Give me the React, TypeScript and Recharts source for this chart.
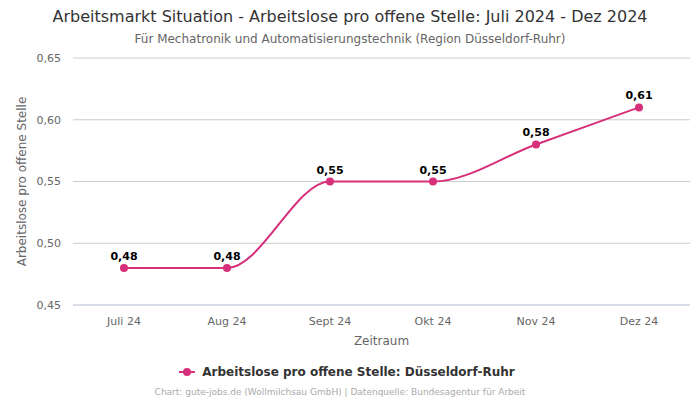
import React from 'react';
import { LineChart, Line, XAxis, YAxis, CartesianGrid, LabelList } from 'recharts';

const categories = ['Juli 24', 'Aug 24', 'Sept 24', 'Okt 24', 'Nov 24', 'Dez 24'];
const values = [0.48, 0.48, 0.55, 0.55, 0.58, 0.61];
const yTicks = [0.45, 0.5, 0.55, 0.6, 0.65];
const seriesName = 'Arbeitslose pro offene Stelle: Düsseldorf-Ruhr';

const data = categories.map((c, i) => ({ name: c, value: values[i] }));

const FONT = '"DejaVu Sans", sans-serif';
const COLOR = '#d6307a';
const fmt = (v: number) => v.toFixed(2).replace('.', ',');

export default function App() {
  return (
    <div style={{ position: 'absolute', left: 0, top: 0, width: 700, height: 400, background: '#fff', fontFamily: FONT }}>
      <div style={{ position: 'absolute', top: 7, left: 0, width: 700, textAlign: 'center', fontSize: 16, color: '#333', fontFamily: FONT }}>
        Arbeitsmarkt Situation - Arbeitslose pro offene Stelle: Juli 2024 - Dez 2024
      </div>
      <div style={{ position: 'absolute', top: 32, left: 0, width: 700, textAlign: 'center', fontSize: 12, color: '#666', fontFamily: FONT }}>
        Für Mechatronik und Automatisierungstechnik (Region Düsseldorf-Ruhr)
      </div>
      <LineChart width={700} height={400} data={data} margin={{ top: 58, right: 10, left: 0, bottom: 55 }}>
        <CartesianGrid horizontal vertical={false} stroke="#cccccc" />
        <XAxis
          dataKey="name"
          padding={{ left: 51, right: 51 }}
          axisLine={{ stroke: '#ccd6eb' }}
          tickLine={false}
          tick={{ fontSize: 11, fill: '#666', fontFamily: FONT }}
          tickMargin={6}
          height={40}
          label={{ value: 'Zeitraum', position: 'insideBottom', offset: 0, fontSize: 12, fill: '#666', fontFamily: FONT }}
        />
        <YAxis
          domain={[0.45, 0.65]}
          ticks={yTicks}
          tickFormatter={fmt}
          width={73}
          axisLine={false}
          tickLine={false}
          tick={{ fontSize: 11, fill: '#666', fontFamily: FONT }}
          tickMargin={6}
          label={{ value: 'Arbeitslose pro offene Stelle', angle: -90, position: 'insideLeft', offset: 22, style: { textAnchor: 'middle' }, fontSize: 12, fill: '#666', fontFamily: FONT }}
        />
        <Line
          type="monotone"
          dataKey="value"
          name={seriesName}
          stroke={COLOR}
          strokeWidth={2}
          dot={{ r: 4, fill: COLOR, stroke: COLOR, strokeWidth: 0 }}
          activeDot={false}
          isAnimationActive={false}
        >
          <LabelList dataKey="value" position="top" offset={8} formatter={fmt} style={{ fontSize: 11, fontWeight: 'bold', fill: '#000', fontFamily: FONT }} />
        </Line>
      </LineChart>
      <div style={{ position: 'absolute', top: 365, left: -3, width: 700, display: 'flex', justifyContent: 'center', alignItems: 'center', fontFamily: FONT }}>
        <svg width={16} height={10} style={{ marginRight: 7 }}>
          <line x1={0} y1={5} x2={16} y2={5} stroke={COLOR} strokeWidth={2} />
          <circle cx={8} cy={5} r={4} fill={COLOR} />
        </svg>
        <span style={{ fontSize: 12, fontWeight: 'bold', color: '#333' }}>{seriesName}</span>
      </div>
      <div style={{ position: 'absolute', top: 387, left: -10, width: 700, textAlign: 'center', fontSize: 9, color: '#aaa' }}>
        Chart: gute-jobs.de (Wollmilchsau GmbH) | Datenquelle: Bundesagentur für Arbeit
      </div>
    </div>
  );
}
